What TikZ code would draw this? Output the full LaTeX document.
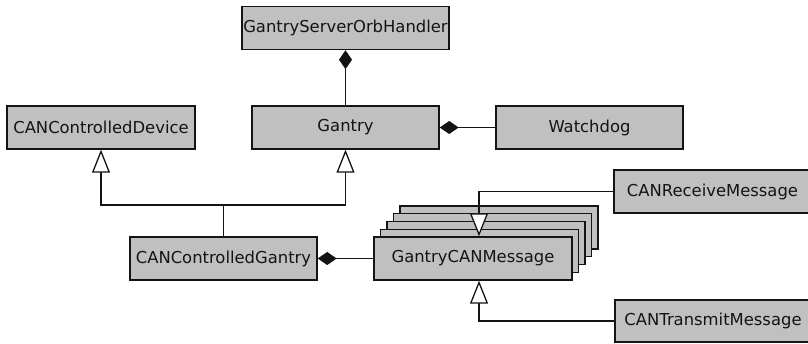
\documentclass[tikz,border=0pt]{standalone}
\usepackage{fontspec}
\setmainfont{DejaVu Sans}
\usetikzlibrary{arrows.meta}
\definecolor{boxgray}{RGB}{192,192,192}
\definecolor{inkcol}{RGB}{20,20,20}
\begin{document}
\begin{tikzpicture}[x=1pt,y=-1pt,
  classbox/.style={draw=inkcol, fill=boxgray, line width=1.4pt, inner sep=0pt,
    minimum height=43pt, text=inkcol,
    font=\fontsize{16.4}{19}\selectfont},
  stackbox/.style={draw=inkcol, fill=boxgray, line width=1.4pt},
  link/.style={draw=inkcol, line width=1.3pt},
  comp/.style={link, {Diamond[length=19pt,width=13pt]}-},
  inh/.style={link, -{Triangle[length=23pt,width=18pt,fill=white]}}]
  \useasboundingbox (0,0) rectangle (808,344);

  % top row
  \node[classbox, minimum width=207pt] (gsoh) at (345.5,28) {GantryServerOrbHandler};
  \node[classbox, minimum width=188pt] (ccd) at (101,127.5) {CANControlledDevice};
  \node[classbox, minimum width=187pt] (gantry) at (345.5,127.5) {Gantry};
  \node[classbox, minimum width=187pt] (watchdog) at (589.5,127.5) {Watchdog};

  % middle row
  \node[classbox, minimum width=187pt] (ccg) at (223.5,258.5) {CANControlledGantry};

  % stacked multi-object boxes behind GantryCANMessage
  \foreach \i in {4,3,2,1} {
    \draw[stackbox] (374+6.5*\i,237-7.75*\i) rectangle (572+6.5*\i,280-7.75*\i);
  }
  \node[classbox, minimum width=198pt] (gcm) at (473,258.5) {GantryCANMessage};

  % message subclasses (cut by the right edge)
  \node[classbox, minimum width=197pt] (crm) at (712.5,191.5) {CANReceiveMessage};
  \node[classbox, minimum width=196pt, minimum height=42pt] (ctm) at (713,321) {CANTransmitMessage};

  % compositions
  \draw[comp] (gsoh) -- (gantry);
  \draw[comp] (gantry) -- (watchdog);
  \draw[comp] (ccg) -- (gcm);

  % generalisations
  \coordinate (join) at (223.5,205);
  \draw[link] (ccg.north) -- (join);
  \draw[inh] (join) -| (ccd.south);
  \draw[inh] (join) -| (gantry.south);
  \draw[inh] (crm.west) -| ([xshift=6pt]gcm.north);
  \draw[inh] (ctm.west) -| ([xshift=6pt]gcm.south);
\end{tikzpicture}
\end{document}
